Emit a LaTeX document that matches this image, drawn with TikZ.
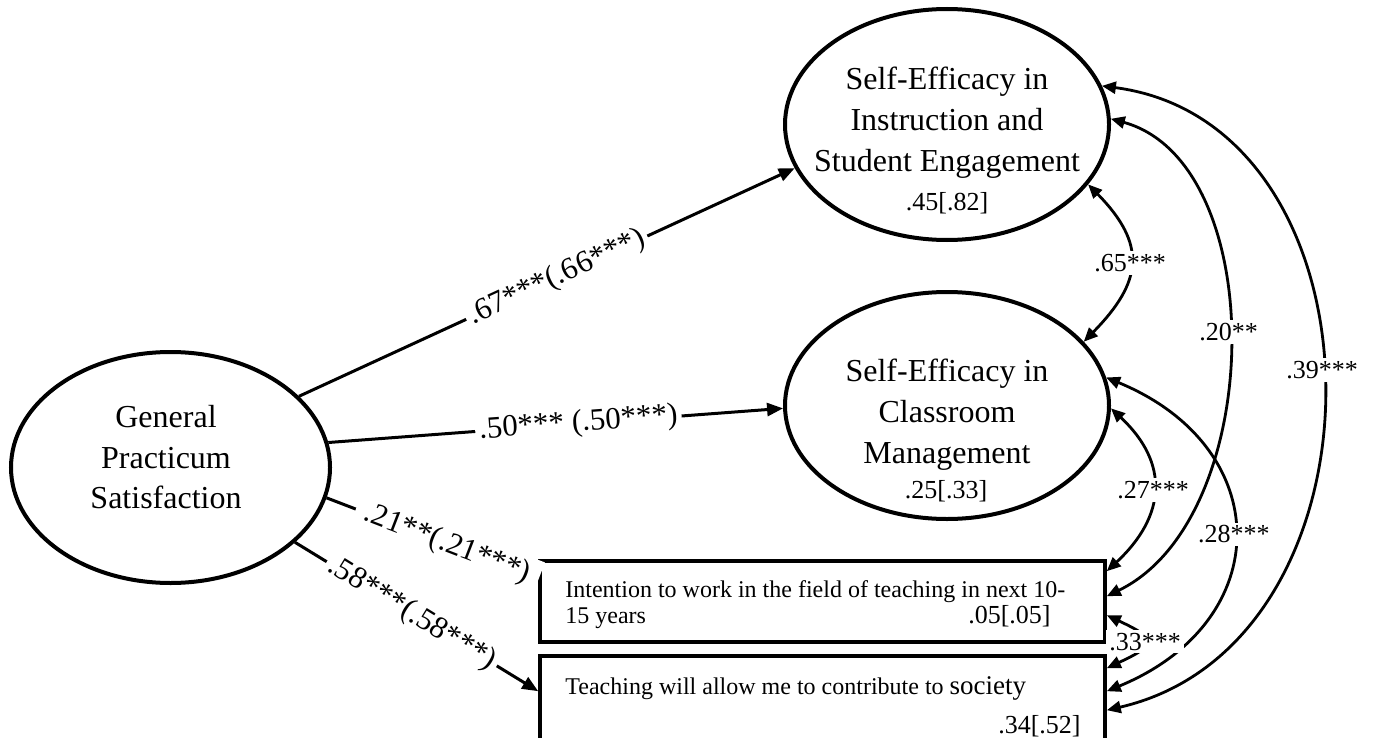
\documentclass[tikz,border=0pt]{standalone}
\usepackage{fontspec}
\setmainfont{Liberation Serif}
\usetikzlibrary{shapes.geometric,arrows.meta,calc}
\begin{document}
\begin{tikzpicture}[x=0.5pt,y=-0.5pt,
  latent/.style={ellipse, draw, line width=2pt, inner sep=0pt},
  obsbox/.style={rectangle, draw, line width=1.8pt, inner sep=0pt, minimum width=282.5pt},
  titletext/.style={font=\fontsize{16}{20.5}\selectfont, align=center, inner sep=0pt},
  rsq/.style={font=\fontsize{13}{15}\selectfont, inner sep=0pt},
  boxtext/.style={font=\fontsize{12}{13}\selectfont, inner sep=0pt, anchor=base west},
  regpath/.style={line width=1.5pt, ->, >={Triangle[length=8pt,width=6.5pt]}},
  covpath/.style={line width=1.4pt, <->, >={Triangle[length=7pt,width=6pt]}},
  coeff/.style={fill=white, inner sep=2pt, font=\fontsize{15.5}{17}\selectfont, sloped},
  covlab/.style={fill=white, inner sep=1.5pt, font=\fontsize{13}{15}\selectfont},
]
\fill[white] (0,0) rectangle (1375,738);
\useasboundingbox (0,0) rectangle (1375,738);
\clip (0,0) rectangle (1375,738);

% latent factors
\node[latent, minimum width=159.5pt, minimum height=115.5pt] (gps) at (170.5,467.5) {};
\node[latent, minimum width=162pt, minimum height=115.5pt] (se1) at (947,124.5) {};
\node[latent, minimum width=162pt, minimum height=113.5pt] (se2) at (947,405.5) {};

\node[titletext, font=\fontsize{16}{20.25}\selectfont] (gpst) at (166,457.5) {General\\Practicum\\Satisfaction};
\node[titletext] (se1t) at (947,123) {Self-Efficacy in\\Instruction and\\Student Engagement};
\node[rsq, anchor=base] (se1r) at (947,210) {.45[.82]};
\node[titletext] (se2t) at (947,415) {Self-Efficacy in\\Classroom\\Management};
\node[rsq, anchor=base] (se2r) at (946,498) {.25[.33]};

% observed outcomes
\node[obsbox, minimum height=40.5pt] (box1) at (822.5,601.5) {};
\node[obsbox, minimum height=46pt] (box2) at (822.5,702) {};

\node[boxtext] (b1t1) at (565,597) {Intention to work in the field of teaching in next 10-};
\node[boxtext] (b1t2) at (565,623) {15 years};
\node[rsq, anchor=base east] (b1r) at (1051,623) {.05[.05]};
\node[boxtext] (b2t1) at (565,694) {Teaching will allow me to contribute to {\fontsize{13.5}{15}\selectfont society}};
\node[rsq, anchor=base east] (b2r) at (1081,733) {.34[.52]};

% attachment points on the boxes
\coordinate (b1w) at ($(box1.north west)+(0,20)$);
\coordinate (b2w) at ($(box2.north west)+(0,37)$);
\coordinate (b1a) at ($(box1.north east)+(0,12)$);
\coordinate (b1b) at ($(box1.north east)+(0,37)$);
\coordinate (b1c) at ($(box1.north east)+(0,56)$);
\coordinate (b2a) at ($(box2.north east)+(0,14)$);
\coordinate (b2b) at ($(box2.north east)+(0,37)$);
\coordinate (b2c) at ($(box2.north east)+(0,56)$);

% structural paths (the label of the third one runs over its own arrow tip)
\draw[regpath] (gps.29) -- node[coeff, pos=0.52] {.67***(.66***)} (se1.196);
\draw[regpath] (gps.9) -- node[coeff, pos=0.55] {.50*** (.50***)} (se2.181);
\draw[regpath] (gps.-11) -- node[coeff, pos=0.57, inner xsep=5pt] {.21**(.21***)} (b1w);
\draw[regpath] (gps.-31) -- node[coeff, pos=0.48] {.58***(.58***)} (b2w);

% residual covariances
\draw[covpath] (se1.14) .. controls +(291,38) and +(291,-67) .. (b2c) node[covlab, pos=0.48] {.39***};
\draw[covpath] (se1.2) .. controls +(160,44) and +(160,-78) .. (b1b) node[covlab, pos=0.48] {.20**};
\draw[covpath] (se1.-23) .. controls +(59,60) and +(59,-60) .. (se2.25) node[covlab, midway] {.65***};
\draw[covpath] (se2.10) .. controls +(170,70) and +(170,-70) .. (b2b) node[covlab, midway] {.28***};
\draw[covpath] (se2.-1) .. controls +(59,55) and +(59,-55) .. (b1a) node[covlab, midway] {.27***};
\draw[covpath] (b1c) .. controls +(51,24) and +(51,-24) .. (b2a) node[covlab, midway] {.33***};
\end{tikzpicture}
\end{document}
